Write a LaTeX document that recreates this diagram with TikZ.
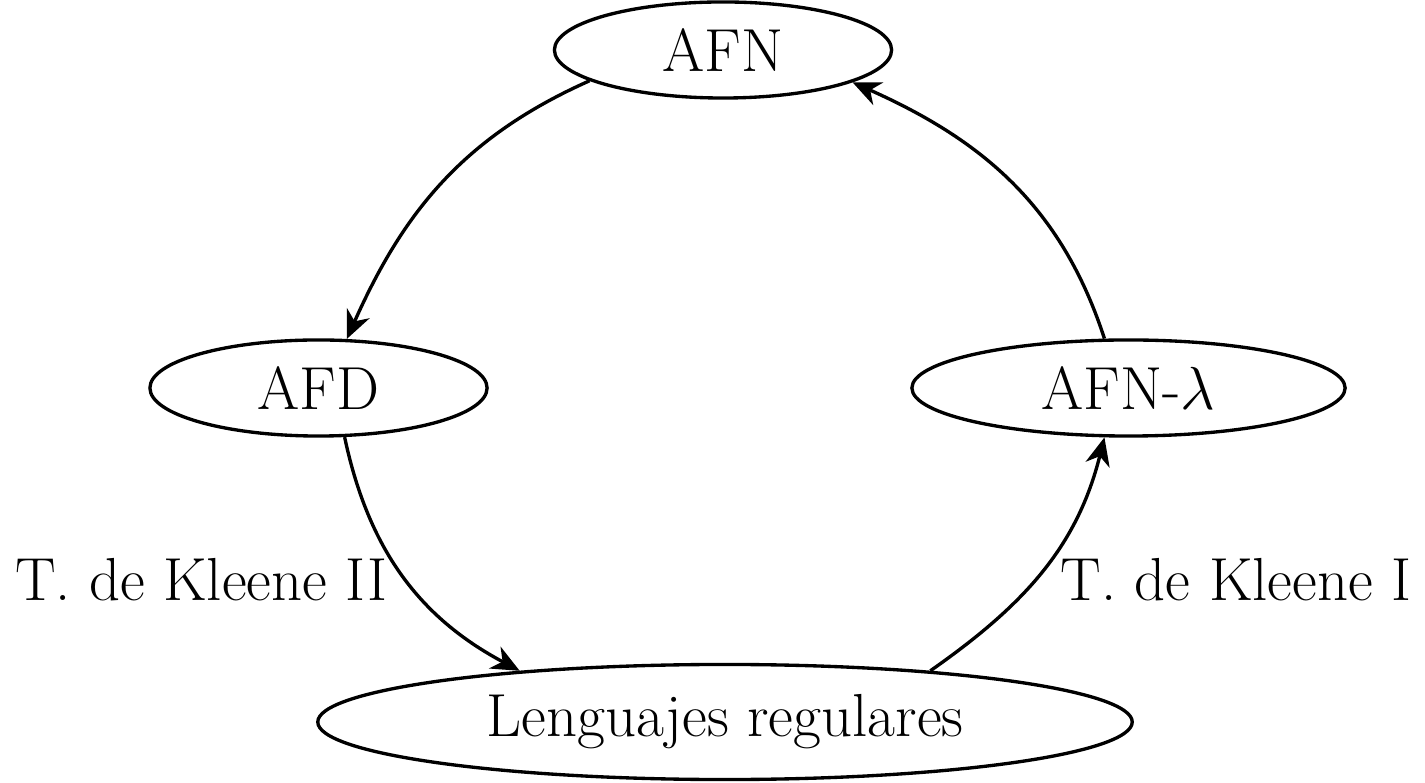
\documentclass[tikz,border=0pt]{standalone}
\usetikzlibrary{shapes.geometric,arrows.meta}
\begin{document}
\begin{tikzpicture}[x=0.01cm,y=-0.01cm,
  every node/.style={font=\fontsize{17.28}{21}\selectfont},
  state/.style={draw,ellipse,line width=0.95pt,inner sep=0pt},
  conn/.style={line width=0.95pt,-{Stealth[length=8pt,width=7pt,inset=2.5pt]}}]
\useasboundingbox (0,0) rectangle (1425,783);
\node[state,minimum width=3.37cm,minimum height=0.96cm] (afn) at (723,50) {AFN};
\node[state,minimum width=3.37cm,minimum height=0.96cm] (afd) at (318.5,388) {AFD};
\node[state,minimum width=4.33cm,minimum height=0.96cm] (afnl) at (1128.5,388) {AFN-$\lambda$};
\node[state,minimum width=8.14cm,minimum height=1.15cm] (lr) at (725,722) {Lenguajes regulares};
\node (k2) at (201,580) {T. de Kleene II};
\node (k1) at (1236,580) {T. de Kleene I};
\draw[conn] (afn.193) to[out=204,in=66] (afd.60);
\draw[conn] (afd.-62) to[out=-78,in=152] (lr.166);
\draw[conn] (lr.14) to[out=35,in=256] (afnl.-116);
\draw[conn] (afnl.116) to[out=108,in=-24] (afn.-14);
\end{tikzpicture}
\end{document}
